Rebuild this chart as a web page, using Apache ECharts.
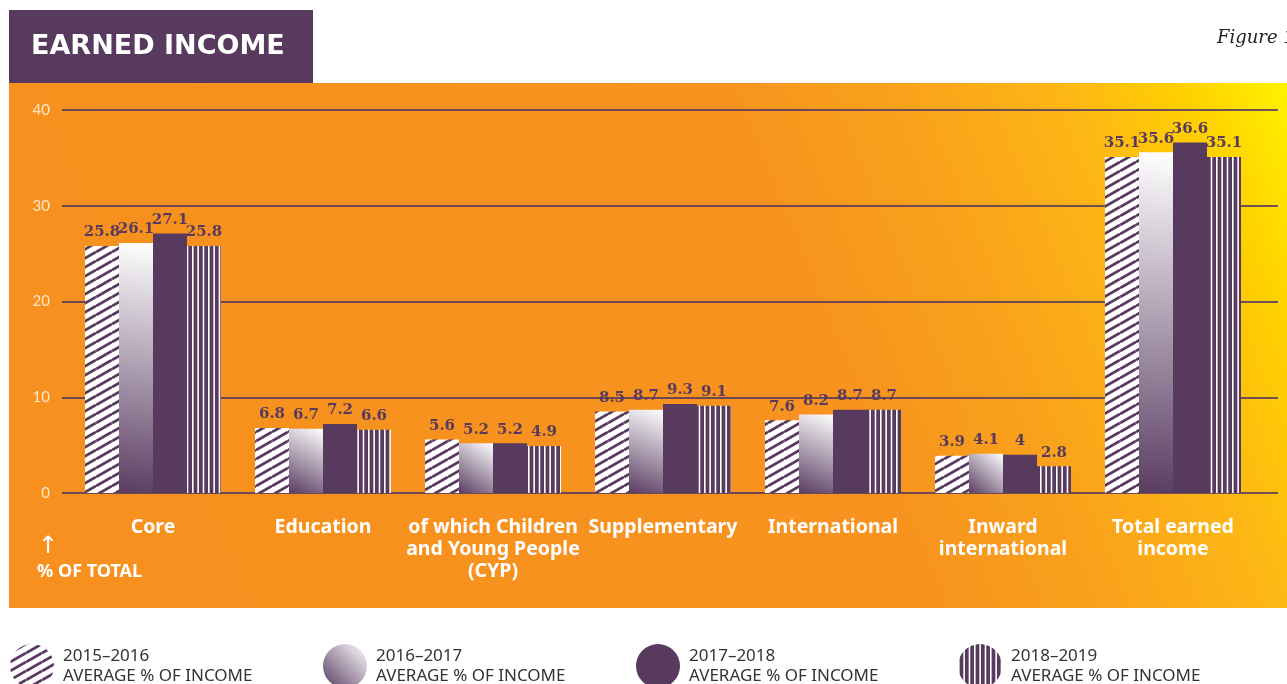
<!DOCTYPE html>
<html>
<head>
<meta charset="utf-8">
<script src="https://cdn.jsdelivr.net/npm/echarts@6/dist/echarts.min.js"></script>
<style>
  html, body { margin: 0; padding: 0; background: #fff; }
  #chart { width: 1287px; height: 684px; }
</style>
</head>
<body>
<div id="chart"></div>
<script>
// data
const categories = ['Core', 'Education', 'of which Children\nand Young People\n(CYP)', 'Supplementary', 'International', 'Inward\ninternational', 'Total earned\nincome'];
const seriesNames = ['2015–2016', '2016–2017', '2017–2018', '2018–2019'];
const y2015 = [25.8, 6.8, 5.6, 8.5, 7.6, 3.9, 35.1];
const y2016 = [26.1, 6.7, 5.2, 8.7, 8.2, 4.1, 35.6];
const y2017 = [27.1, 7.2, 5.2, 9.3, 8.7, 4, 36.6];
const y2018 = [25.8, 6.6, 4.9, 9.1, 8.7, 2.8, 35.1];
const yTicks = [0, 10, 20, 30, 40];

const PURPLE = '#573a5e';

// diagonal hatch
function diagPattern() {
  const c = document.createElement('canvas');
  c.width = 16; c.height = 9;
  const g = c.getContext('2d');
  g.fillStyle = '#fff';
  g.fillRect(0, 0, 16, 9);
  g.strokeStyle = PURPLE;
  g.lineWidth = 2.8;
  for (let k = -1; k <= 1; k++) {
    g.beginPath();
    g.moveTo(0, 9 + k * 9);
    g.lineTo(16, k * 9);
    g.stroke();
  }
  return { image: c, repeat: 'repeat' };
}

// vertical stripes
function vertPattern() {
  const c = document.createElement('canvas');
  c.width = 16; c.height = 4;
  const g = c.getContext('2d');
  g.fillStyle = PURPLE;
  g.fillRect(0, 0, 16, 4);
  g.fillStyle = '#fff';
  [0, 5.33, 10.67].forEach(x => g.fillRect(x, 0, 1.6, 4));
  return { image: c, repeat: 'repeat' };
}

const gradFill = new echarts.graphic.LinearGradient(0, 1, 1, 0, [
  { offset: 0, color: '#5a3d62' },
  { offset: 1, color: '#ffffff' }
]);

const chart = echarts.init(document.getElementById('chart'));

const labelStyle = {
  show: true,
  position: 'top',
  distance: 6,
  color: PURPLE,
  fontFamily: 'DejaVu Serif',
  fontWeight: 'bold',
  fontSize: 15
};

function bar(name, data, color) {
  return {
    name: name,
    type: 'bar',
    xAxisIndex: 1,
    yAxisIndex: 1,
    barWidth: 34,
    barGap: '0%',
    data: data,
    itemStyle: { color: color },
    label: labelStyle
  };
}

const legendLefts = [5, 318, 631, 953];

chart.setOption({
  animation: false,
  graphic: [
    {
      type: 'rect', silent: true, z: -10,
      shape: { x: 9, y: 83, width: 1278, height: 525 },
      style: {
        fill: new echarts.graphic.LinearGradient(0, 1, 1, 0, [
          { offset: 0, color: '#f7901e' },
          { offset: 0.62, color: '#f7931e' },
          { offset: 0.74, color: '#f9a21b' },
          { offset: 0.85, color: '#fdb715' },
          { offset: 0.93, color: '#ffd000' },
          { offset: 1, color: '#fff200' }
        ])
      }
    },
    {
      type: 'rect', silent: true, z: -10,
      shape: { x: 9, y: 10, width: 304, height: 73 },
      style: { fill: PURPLE }
    },
    {
      type: 'text', left: 31, top: 33,
      style: { text: 'EARNED INCOME', fill: '#fff', font: 'bold 27px "DejaVu Sans"' }
    },
    {
      type: 'text', left: 1217, top: 29,
      style: { text: 'Figure 1', fill: '#222', font: 'italic 18px "DejaVu Serif"' }
    },
    {
      type: 'text', left: 37, top: 535,
      style: {
        text: '{a|↑}\n{b|% OF TOTAL}',
        rich: {
          a: { fill: '#fff', fontSize: 24, fontFamily: 'DejaVu Sans', lineHeight: 26, padding: [0, 0, 0, 1] },
          b: { fill: '#fff', fontSize: 18, fontFamily: 'Noto Sans', fontWeight: 'bold', lineHeight: 24 }
        }
      }
    }
  ],
  legend: seriesNames.map((n, i) => ({
    data: [n],
    left: legendLefts[i],
    top: 639,
    icon: 'circle',
    itemWidth: 44,
    itemHeight: 44,
    itemGap: 0,
    selectedMode: false,
    formatter: name => name + '\nAVERAGE % OF INCOME',
    textStyle: { color: '#333', fontFamily: 'Noto Sans', fontSize: 17, lineHeight: 20, padding: [0, 0, 0, 4] }
  })),
  grid: [
    { left: 62, right: 9, top: 110, bottom: 191 },
    { left: 68, right: 29, top: 110, bottom: 191 }
  ],
  xAxis: [
    { gridIndex: 0, type: 'value', show: false },
    {
      gridIndex: 1,
      type: 'category',
      data: categories,
      axisLine: { show: false },
      axisTick: { show: false },
      axisLabel: {
        interval: 0,
        margin: 23,
        color: '#fff',
        fontFamily: 'Noto Sans',
        fontWeight: 'bold',
        fontSize: 19.5,
        lineHeight: 22
      }
    }
  ],
  yAxis: [
    {
      gridIndex: 0,
      type: 'value',
      min: yTicks[0],
      max: yTicks[yTicks.length - 1],
      interval: 10,
      axisLine: { show: false },
      axisTick: { show: false },
      axisLabel: { margin: 12, color: '#ffe7cc', fontFamily: 'Lato', fontSize: 15 },
      splitLine: { lineStyle: { color: 'rgba(87,58,94,0.85)', width: 2 } }
    },
    { gridIndex: 1, type: 'value', min: 0, max: 40, show: false }
  ],
  series: [
    bar(seriesNames[0], y2015, diagPattern()),
    bar(seriesNames[1], y2016, gradFill),
    bar(seriesNames[2], y2017, PURPLE),
    bar(seriesNames[3], y2018, vertPattern())
  ]
});
</script>
</body>
</html>
